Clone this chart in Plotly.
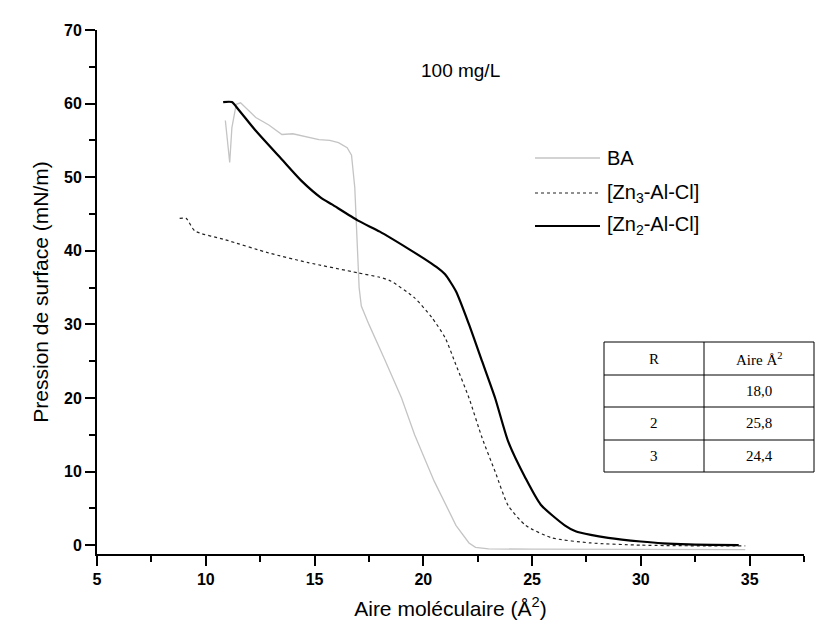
import plotly.graph_objects as go

# ---------------- data ----------------
ba_x = [10.9, 11.0, 11.1, 11.2, 11.4, 11.6, 12.0, 12.3, 12.9, 13.5, 14.0, 14.4, 15.2, 15.7,
        16.1, 16.5, 16.7, 16.85, 16.95, 17.05, 17.15, 17.5, 18.2, 19.0, 19.6, 20.5, 21.5, 22.1,
        22.4, 23.0, 25.0, 28.5, 32.0, 34.8]
ba_y = [57.7, 55.0, 52.0, 56.7, 59.9, 60.1, 59.0, 58.1, 57.1, 55.8, 55.9, 55.6, 55.1, 55.0,
        54.7, 54.0, 53.0, 48.6, 41.8, 35.0, 32.5, 30.0, 25.4, 20.0, 15.0, 8.7, 2.7, 0.3,
        -0.3, -0.5, -0.55, -0.6, -0.6, -0.6]

zn3_x = [8.8, 9.1, 9.5, 10.9, 12.9, 14.7, 17.0, 18.0, 18.5, 19.6, 20.4, 21.0, 21.5, 22.1,
         22.7, 23.3, 23.9, 24.7, 25.9, 27.7, 30.0, 33.0, 34.8]
zn3_y = [44.4, 44.4, 42.7, 41.5, 39.7, 38.4, 37.0, 36.4, 35.9, 33.6, 30.9, 28.2, 24.5, 20.0,
         14.6, 10.0, 5.4, 2.7, 1.0, 0.3, 0.0, -0.1, -0.1]

zn2_x = [10.8, 11.2, 11.5, 12.3, 13.5, 14.4, 15.3, 15.8, 17.0, 18.0, 19.3, 20.0, 20.6, 21.0,
         21.5, 22.1, 22.7, 23.3, 23.9, 24.7, 25.4, 26.5, 27.0, 27.7, 28.5, 30.0, 31.0, 32.2, 34.5]
zn2_y = [60.2, 60.2, 59.2, 56.3, 52.4, 49.5, 47.2, 46.3, 44.1, 42.6, 40.3, 39.0, 37.8, 36.8,
         34.5, 30.0, 25.0, 20.0, 14.1, 9.1, 5.5, 2.7, 1.9, 1.4, 1.0, 0.5, 0.25, 0.1, 0.0]

series_names = ["BA", "[Zn<sub>3</sub>-Al-Cl]", "[Zn<sub>2</sub>-Al-Cl]"]
table_header = ["R", "Aire Å<sup>2</sup>"]
table_r = ["", "2", "3"]
table_aire = ["18,0", "25,8", "24,4"]
title_text = "100 mg/L"

# ---------------- layout helpers ----------------
W, H = 823, 629
ML, MR, MT, MB = 89, 27, 22, 83
PW, PH = W - ML - MR, H - MT - MB


def px(xp):
    return (xp - ML) / PW


def py(yp):
    return (H - MB - yp) / PH


fig = go.Figure()
fig.add_trace(go.Scatter(x=ba_x, y=ba_y, mode="lines", name="BA",
                         line=dict(color="#c4c4c4", width=1.3), showlegend=False))
fig.add_trace(go.Scatter(x=zn3_x, y=zn3_y, mode="lines", name="[Zn3-Al-Cl]",
                         line=dict(color="#222222", width=1.2, dash="dot", shape="spline", smoothing=0.6),
                         showlegend=False))
fig.add_trace(go.Scatter(x=zn2_x, y=zn2_y, mode="lines", name="[Zn2-Al-Cl]",
                         line=dict(color="#000000", width=2.2, shape="spline", smoothing=0.6),
                         showlegend=False))

shapes = []
annotations = []

# manual legend
leg_y = [150, 185, 218]
leg_styles = [dict(color="#c4c4c4", width=1.3), dict(color="#222222", width=1.2, dash="dot"),
              dict(color="#000000", width=2.2)]
for name, yy, st in zip(series_names, leg_y, leg_styles):
    shapes.append(dict(type="line", xref="paper", yref="paper", x0=px(527), x1=px(592),
                       y0=py(yy), y1=py(yy), line=st))
    annotations.append(dict(xref="paper", yref="paper", x=px(597), y=py(yy), text=name,
                            showarrow=False, xanchor="left", yanchor="middle",
                            font=dict(family="Liberation Sans, Arial", size=20, color="black")))

# title text
annotations.append(dict(xref="paper", yref="paper", x=px(452), y=py(63), text=title_text,
                        showarrow=False, xanchor="center", yanchor="middle",
                        font=dict(family="Liberation Sans, Arial", size=19, color="black")))

# table
t_left, t_mid, t_right = 596, 696, 806
rows = [334, 367, 399, 432, 464]
shapes.append(dict(type="rect", xref="paper", yref="paper", x0=px(t_left), x1=px(t_right),
                   y0=py(rows[-1]), y1=py(rows[0]), line=dict(color="black", width=1),
                   fillcolor="white", layer="above"))
shapes.append(dict(type="line", xref="paper", yref="paper", x0=px(t_mid), x1=px(t_mid),
                   y0=py(rows[-1]), y1=py(rows[0]), line=dict(color="black", width=1)))
for r in rows[1:-1]:
    shapes.append(dict(type="line", xref="paper", yref="paper", x0=px(t_left), x1=px(t_right),
                       y0=py(r), y1=py(r), line=dict(color="black", width=1)))
cells = [table_header] + [[a, b] for a, b in zip(table_r, table_aire)]
tfont = dict(family="Liberation Serif, Times New Roman", size=15, color="black")
for i, (c1, c2) in enumerate(cells):
    yc = (rows[i] + rows[i + 1]) / 2
    annotations.append(dict(xref="paper", yref="paper", x=px((t_left + t_mid) / 2), y=py(yc),
                            text=c1, showarrow=False, xanchor="center", yanchor="middle", font=tfont))
    annotations.append(dict(xref="paper", yref="paper", x=px((t_mid + t_right) / 2), y=py(yc),
                            text=c2, showarrow=False, xanchor="center", yanchor="middle", font=tfont))

axis_common = dict(showgrid=False, zeroline=False, showline=True, linecolor="black", linewidth=2,
                   ticks="outside", ticklen=10, tickwidth=2, tickcolor="black",
                   tickfont=dict(family="Liberation Sans, Arial", size=16, color="black", weight="bold"),
                   mirror=False)

fig.update_layout(
    width=W, height=H,
    margin=dict(l=ML, r=MR, t=MT, b=MB),
    paper_bgcolor="white", plot_bgcolor="white",
    shapes=shapes, annotations=annotations,
    xaxis=dict(range=[5, 37.5], tick0=5, dtick=5, **axis_common,
               minor=dict(ticks="outside", ticklen=6, tickwidth=2, tickcolor="black", dtick=2.5),
               title=dict(text="Aire moléculaire (Å<sup>2</sup>)", standoff=14,
                          font=dict(family="Liberation Sans, Arial", size=21, color="black"))),
    yaxis=dict(range=[-1.2, 70], tick0=0, dtick=10, **axis_common,
               minor=dict(ticks="outside", ticklen=6, tickwidth=2, tickcolor="black", dtick=5),
               title=dict(text="Pression de surface (mN/m)", standoff=10,
                          font=dict(family="Liberation Sans, Arial", size=21, color="black"))),
)

fig.write_html("out.html")
